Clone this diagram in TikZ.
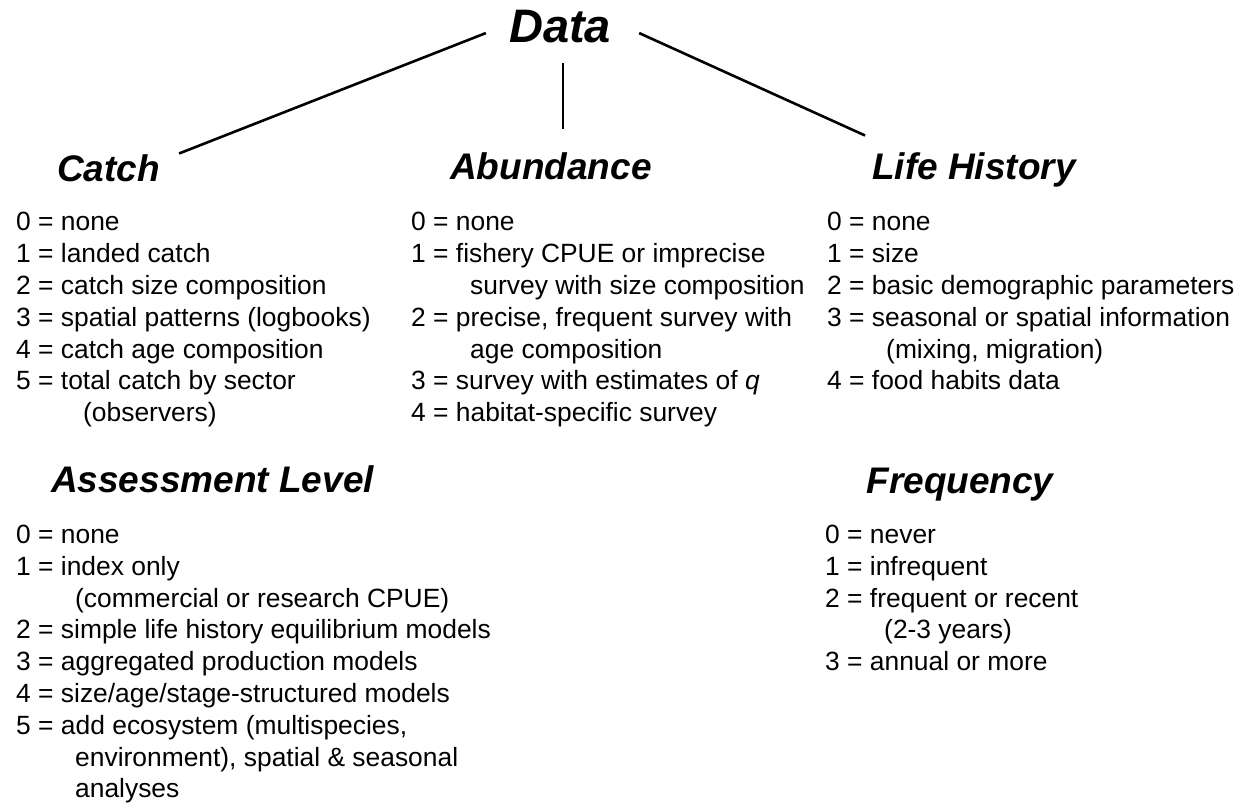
\documentclass[tikz,border=0pt]{standalone}
\usepackage{fontspec}
\setmainfont{Liberation Sans}
\newcommand\wrapline[1]{\hspace*{59pt}#1}
\tikzset{
  title/.style={font=\fontsize{47}{56}\selectfont\bfseries\itshape, inner sep=0pt, anchor=base},
  head/.style={font=\fontsize{37}{44}\selectfont\bfseries\itshape, inner sep=0pt, anchor=base},
  itemlist/.style={font=\fontsize{26.4}{31.8}\selectfont, inner sep=0pt, anchor=base west},
  link/.style={line width=2.6pt},
}
\begin{document}
\begin{tikzpicture}[x=1pt,y=-1pt]
\useasboundingbox (0,0) rectangle (1245,805);

% headings
\node[title] (data) at (560,43) {Data};
\node[head] (catch) at (108.5,182) {Catch};
\node[head] (abund) at (551,180) {Abundance};
\node[head] (life) at (974,180) {Life History};
\node[head] (assess) at (212.5,492) {Assessment Level};
\node[head] (freq) at (960,493) {Frequency};

% links from the root heading
\draw[link] ([shift={(-23,6)}]data.west) -- ([shift={(19,-1.5)}]catch.north east);
\draw[link] ([shift={(3,19)}]data.south) -- ([shift={(12,-23.5)}]abund.north);
\draw[link] ([shift={(28,6)}]data.east) -- ([shift={(-7,-17.5)}]life.north west);

% coded categories
\node[itemlist] (catchlist) at (16,231) {\begin{tabular}[t]{@{}l@{}}
0 = none\\
1 = landed catch\\
2 = catch size composition\\
3 = spatial patterns (logbooks)\\
4 = catch age composition\\
5 = total catch by sector\\
\hspace*{67pt}(observers)
\end{tabular}};

\node[itemlist] (abundlist) at (411,231) {\begin{tabular}[t]{@{}l@{}}
0 = none\\
1 = fishery CPUE or imprecise\\
\wrapline{survey with size composition}\\
2 = precise, frequent survey with\\
\wrapline{age composition}\\
3 = survey with estimates of \textit{q}\\
4 = habitat-specific survey
\end{tabular}};

\node[itemlist] (lifelist) at (827,231) {\begin{tabular}[t]{@{}l@{}}
0 = none\\
1 = size\\
2 = basic demographic parameters\\
3 = seasonal or spatial information\\
\wrapline{(mixing, migration)}\\
4 = food habits data
\end{tabular}};

\node[itemlist] (assesslist) at (16,543.5) {\begin{tabular}[t]{@{}l@{}}
0 = none\\
1 = index only\\
\wrapline{(commercial or research CPUE)}\\
2 = simple life history equilibrium models\\
3 = aggregated production models\\
4 = size/age/stage-structured models\\
5 = add ecosystem (multispecies,\\
\wrapline{environment), spatial \& seasonal}\\
\wrapline{analyses}
\end{tabular}};

\node[itemlist] (freqlist) at (825,543.5) {\begin{tabular}[t]{@{}l@{}}
0 = never\\
1 = infrequent\\
2 = frequent or recent\\
\wrapline{(2-3 years)}\\
3 = annual or more
\end{tabular}};
\end{tikzpicture}
\end{document}
